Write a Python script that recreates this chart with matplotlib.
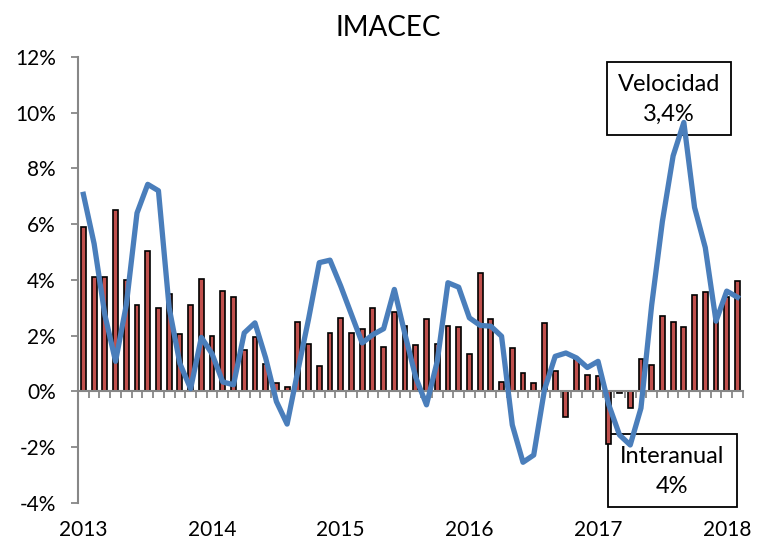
import matplotlib.pyplot as plt
import numpy as np
from matplotlib.patches import Rectangle

plt.rcParams['font.family'] = ['Lato', 'DejaVu Sans']
plt.rcParams['axes.unicode_minus'] = False

years = ['2013', '2014', '2015', '2016', '2017', '2018']

# IMACEC interanual (bars), monthly Jan 2013 - Feb 2018
interanual = [5.9, 4.1, 4.1, 6.5, 4.0, 3.1, 5.05, 3.0, 3.5, 2.05, 3.1, 4.05,
              2.0, 3.6, 3.4, 1.5, 1.95, 1.0, 0.3, 0.15, 2.5, 1.7, 0.9, 2.1,
              2.65, 2.1, 2.25, 3.0, 1.6, 2.85, 2.35, 1.65, 2.6, 1.7, 2.35, 2.3,
              1.35, 4.25, 2.6, 0.35, 1.55, 0.65, 0.3, 2.45, 0.75, -0.9, 1.15, 0.6,
              0.55, -1.9, -0.05, -0.6, 1.15, 0.95, 2.7, 2.5, 2.3, 3.45, 3.55, 2.6,
              3.4, 3.95]

# velocidad (line)
velocidad = [7.07, 5.3, 2.75, 1.08, 3.1, 6.4, 7.43, 7.2, 3.0, 1.0, 0.1, 1.94,
             1.35, 0.34, 0.24, 2.1, 2.46, 1.2, -0.36, -1.17, 0.74, 2.6, 4.62, 4.71,
             3.78, 2.76, 1.74, 2.04, 2.25, 3.66, 2.04, 0.5, -0.48, 1.08, 3.9, 3.74,
             2.64, 2.37, 2.34, 1.98, -1.2, -2.54, -2.28, 0.06, 1.26, 1.38, 1.2, 0.86,
             1.08, -0.48, -1.56, -1.92, -0.6, 3.1, 6.1, 8.45, 9.65, 6.6, 5.16, 2.52,
             3.6, 3.38]

yticks = [-4, -2, 0, 2, 4, 6, 8, 10, 12]
ytick_labels = ['-4%', '-2%', '0%', '2%', '4%', '6%', '8%', '10%', '12%']

gray = '#878787'
x = np.arange(len(interanual))

fig = plt.figure(figsize=(7.65, 5.42), dpi=100)
ax = fig.add_axes([0.102, 0.072, 0.869, 0.823])

ax.bar(x, interanual, width=0.45, color='#C0504D', edgecolor='black',
       linewidth=1.2, zorder=2)
ax.plot(x, velocidad, color='#4A7EBB', lw=3.8, zorder=4,
        solid_joinstyle='round')

ax.set_xlim(-0.5, len(x) - 0.5)
ax.set_ylim(-4, 12)
ax.set_yticks(yticks)
ax.set_yticklabels(ytick_labels)

for s in ['top', 'right']:
    ax.spines[s].set_visible(False)
ax.spines['left'].set_color(gray)
ax.spines['left'].set_linewidth(1.5)
ax.spines['bottom'].set_position(('data', 0))
ax.spines['bottom'].set_color(gray)
ax.spines['bottom'].set_linewidth(1.5)
ax.spines['bottom'].set_zorder(3)

ax.set_xticks(np.arange(len(x) + 1) - 0.5)
ax.set_xticklabels([])
ax.tick_params(axis='x', direction='out', length=5, width=1.3, color=gray)
ax.tick_params(axis='y', direction='out', length=5, width=1.3, color=gray,
               labelsize=15, pad=11)

for i, yr in enumerate(years):
    ax.text(i * 12, -0.06, yr, transform=ax.get_xaxis_transform(),
            ha='center', va='center', fontsize=15)

fig.text(0.507, 0.948, 'IMACEC', ha='center', va='center', fontsize=20)

# annotation boxes
ax.add_patch(Rectangle((0.7955, 0.825), 0.1865, 0.164, transform=ax.transAxes,
                       facecolor='white', edgecolor='black', lw=1.3,
                       zorder=1, clip_on=False))
ax.text(0.889, 0.905, 'Velocidad\n3,4%', transform=ax.transAxes, ha='center',
        va='center', fontsize=17, linespacing=1.5, zorder=1.5)

ax.add_patch(Rectangle((0.797, -0.009), 0.194, 0.164, transform=ax.transAxes,
                       facecolor='white', edgecolor='black', lw=1.3,
                       zorder=1, clip_on=False))
ax.text(0.894, 0.071, 'Interanual\n4%', transform=ax.transAxes, ha='center',
        va='center', fontsize=17, linespacing=1.5, zorder=1.5)

fig.savefig('out.png', dpi=100)
